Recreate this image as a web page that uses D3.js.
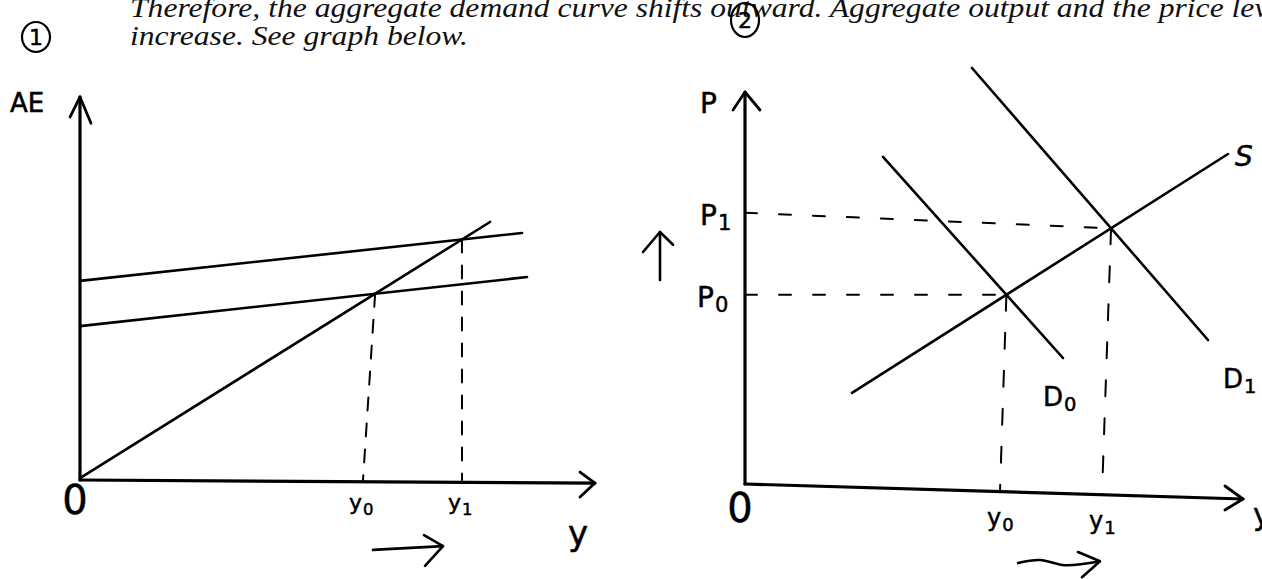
<!DOCTYPE html>
<html>
<head>
<meta charset="utf-8">
<script src="https://d3js.org/d3.v7.min.js"></script>
<style>
  body { margin: 0; background: #fff; }
  svg { display: block; }
  .hand { font-family: "DejaVu Sans", sans-serif; fill: #000; stroke: #000; stroke-width: 0.5; }
</style>
</head>
<body>
<script>
var width = 1262, height = 579;

// typed lines at the top of the page
var headerLines = [
  "Therefore, the aggregate demand curve shifts outward. Aggregate output and the price level",
  "increase. See graph below."
];

// panel 1 (AE / Y), values on a 0-10 grid
var line45 = [[0, 0.05], [8.2, 6.79]];
var lineAE0 = [[0, 4.05], [8.94, 5.34]];
var lineAE1 = [[0, 5.24], [8.84, 6.5]];
var leftDropFeet = [5.66, 7.64];      // where the dashed drops hit the Y axis
var leftSubs = ["0", "1"];

// panel 2 (P / Y)
var lineS = [[2.14, 2.28], [9.66, 8.25]];
var lineD0 = [[2.76, 8.18], [6.36, 3.15]];
var lineD1 = [[4.54, 10.4], [9.26, 3.6]];
var priceTicks = [4.73, 6.78];        // P0, P1 marks on the P axis
var rightDropFeet = [5.1, 7.14];
var rightAxisEnd = [9.96, -0.375];
var rightSubs = ["0", "1"];

var xL = d3.scaleLinear().domain([0, 10]).range([80, 580]);
var yL = d3.scaleLinear().domain([0, 10]).range([480, 100]);
var xR = d3.scaleLinear().domain([0, 10]).range([745, 1245]);
var yR = d3.scaleLinear().domain([0, 10]).range([484, 84]);

function cross(a, b) {
  var m1 = (a[1][1] - a[0][1]) / (a[1][0] - a[0][0]);
  var m2 = (b[1][1] - b[0][1]) / (b[1][0] - b[0][0]);
  var x = (b[0][1] - m2 * b[0][0] - a[0][1] + m1 * a[0][0]) / (m1 - m2);
  return [x, a[0][1] + m1 * (x - a[0][0])];
}

var svg = d3.select("body").append("svg")
  .attr("width", width)
  .attr("height", height)
  .style("background", "#fff");

// header text
var header = svg.append("g")
  .attr("font-family", "'Liberation Serif', serif")
  .attr("font-style", "italic")
  .attr("font-size", 27)
  .attr("fill", "#111");
var h1 = header.append("text").attr("x", 130).attr("y", 17).text(headerLines[0]);
var h2 = header.append("text").attr("x", 130).attr("y", 45).text(headerLines[1]);
var k = 338 / h2.node().getComputedTextLength();
h2.attr("textLength", 338).attr("lengthAdjust", "spacingAndGlyphs");
h1.attr("textLength", h1.node().getComputedTextLength() * k).attr("lengthAdjust", "spacingAndGlyphs");

// circled numbers
function circled(cx, cy, rx, ry, txt) {
  svg.append("ellipse").attr("cx", cx).attr("cy", cy).attr("rx", rx).attr("ry", ry)
    .attr("fill", "none").attr("stroke", "#000").attr("stroke-width", 2.2);
  svg.append("text").attr("class", "hand").attr("x", cx).attr("y", cy + 8)
    .attr("text-anchor", "middle").attr("font-size", 22).text(txt);
}
circled(36, 37, 14, 15, "1");
circled(745, 20, 14, 17, "2");

function seg(x, y) {
  return d3.line().x(function(d) { return x(d[0]); }).y(function(d) { return y(d[1]); });
}
function draw(g, pts, x, y, w, dash) {
  var p = g.append("path").attr("d", seg(x, y)(pts))
    .attr("fill", "none").attr("stroke", "#000").attr("stroke-width", w)
    .attr("stroke-linecap", "round").attr("stroke-linejoin", "round");
  if (dash) p.attr("stroke-dasharray", dash);
  return p;
}
function label(x, y, main, sub, size) {
  var t = svg.append("text").attr("class", "hand").attr("x", x).attr("y", y)
    .attr("font-size", size || 26).text(main);
  if (sub) t.append("tspan").attr("font-size", (size || 26) * 0.75).attr("dy", 5).attr("dx", 1).text(sub);
  return t;
}

// ---------- panel 1 ----------
var gL = svg.append("g");
draw(gL, [[0, 0], [0, 10.08]], xL, yL, 3.2);
draw(gL, [[-0.2, 9.55], [0, 10.08], [0.22, 9.39]], xL, yL, 2.8);
draw(gL, [[0, 0], [10.3, -0.08]], xL, yL, 3.2);
draw(gL, [[10, 0.21], [10.3, -0.08], [10, -0.45]], xL, yL, 2.8);

[line45, lineAE0, lineAE1].forEach(function(l) { draw(gL, l, xL, yL, 2.6); });

var eL = [cross(line45, lineAE0), cross(line45, lineAE1)];
eL.forEach(function(e, i) {
  draw(gL, [e, [leftDropFeet[i], 0]], xL, yL, 2, "13,13");
  label(xL(leftDropFeet[i]) - 14, yL(0) + 30, "y", leftSubs[i], 22);
});

label(10, yL(9.68), "AE", null, 26);
label(xL(0) - 5, yL(0) + 34, "0", null, 40).attr("text-anchor", "middle");
label(xL(10) - 12, yL(0) + 65, "y", null, 34);

// shift arrow under the Y axis
draw(gL, [[5.86, -1.84], [7.26, -1.74]], xL, yL, 2.6);
draw(gL, [[6.88, -1.45], [7.26, -1.74], [6.9, -2.26]], xL, yL, 2.6);

// ---------- panel 2 ----------
var gR = svg.append("g");
draw(gR, [[0, 0], [0, 9.8]], xR, yR, 3.2);
draw(gR, [[-0.24, 9.35], [0, 9.8], [0.3, 9.35]], xR, yR, 2.8);
draw(gR, [[0, 0], rightAxisEnd], xR, yR, 3.2);
draw(gR, [[9.6, -0.05], rightAxisEnd, [9.6, -0.65]], xR, yR, 2.8);

[lineS, lineD0, lineD1].forEach(function(l) { draw(gR, l, xR, yR, 2.6); });

var eR = [cross(lineS, lineD0), cross(lineS, lineD1)];
function axisY(x) { return rightAxisEnd[1] * x / rightAxisEnd[0]; }
eR.forEach(function(e, i) {
  draw(gR, [[0, priceTicks[i]], e], xR, yR, 2, "12,22");
  draw(gR, [e, [rightDropFeet[i], axisY(rightDropFeet[i])]], xR, yR, 2, "16,22");
  label(xR(rightDropFeet[i]) - 13, yR(axisY(rightDropFeet[i])) + 34, "y", rightSubs[i], 24);
  label(xR(0) - 48 + (i ? 3 : 0), yR(priceTicks[i]) + 12, "P", rightSubs[i], 28);
});

label(xR(0) - 45, yR(9.28), "P", null, 28);
label(xR(0) - 5, yR(0) + 38, "0", null, 40).attr("text-anchor", "middle");
label(xR(rightAxisEnd[0]) + 10, yR(rightAxisEnd[1]) + 26, "y", null, 30);
label(xR(lineS[1][0]) + 7, yR(lineS[1][1]) + 12, "S", null, 28).attr("font-style", "italic");
label(xR(lineD0[1][0]) - 20, yR(lineD0[1][1]) + 48, "D", rightSubs[0], 26);
label(xR(lineD1[1][0]) + 15, yR(lineD1[1][1]) + 48, "D", rightSubs[1], 26);

// price rising arrow
draw(gR, [[-1.7, 5.1], [-1.7, 6.3]], xR, yR, 2.6);
draw(gR, [[-2.04, 5.8], [-1.7, 6.3], [-1.44, 5.98]], xR, yR, 2.6);

// output rising arrow (wavy)
gR.append("path")
  .attr("d", d3.line().curve(d3.curveCatmullRom)
    .x(function(d) { return xR(d[0]); }).y(function(d) { return yR(d[1]); })
    ([[5.44, -1.98], [5.9, -1.9], [6.4, -2.03], [7.1, -1.93]]))
  .attr("fill", "none").attr("stroke", "#000").attr("stroke-width", 2.6);
draw(gR, [[6.66, -1.7], [7.1, -1.93], [6.74, -2.33]], xR, yR, 2.6);
</script>
</body>
</html>
